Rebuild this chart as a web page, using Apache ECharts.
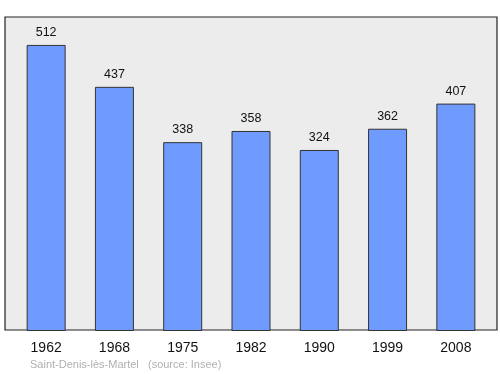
<!DOCTYPE html>
<html><head><meta charset="utf-8">
<script src="https://cdn.jsdelivr.net/npm/echarts@6/dist/echarts.min.js"></script>
<style>html,body{margin:0;padding:0;background:#fff}#c{width:500px;height:374px}</style>
</head><body><div id="c"></div>
<script>
const years = ['1962','1968','1975','1982','1990','1999','2008'];
const population = [512,437,338,358,324,362,407];
const sourceText = 'Saint-Denis-lès-Martel   (source: Insee)';

const chart = echarts.init(document.getElementById('c'), null, {renderer:'canvas'});
chart.setOption({
  animation:false,
  grid:[
    {left:5, right:3, top:17, bottom:44, show:true, backgroundColor:'#ececec', borderColor:'#222', borderWidth:1.2},
    {left:12, right:10, top:17, bottom:43}
  ],
  xAxis:[
    {gridIndex:0, type:'value', show:false, min:0, max:1},
    {gridIndex:1, type:'category', data:years, axisLine:{show:false}, axisTick:{show:false},
     axisLabel:{color:'#111', fontSize:14, fontFamily:'Liberation Sans, Arial, sans-serif', margin:10}}
  ],
  yAxis:[
    {gridIndex:0, type:'value', show:false, min:0, max:1},
    {gridIndex:1, type:'value', min:0, max:562, show:false}
  ],
  series:[{
    type:'bar', xAxisIndex:1, yAxisIndex:1, data:population, barWidth:39,
    itemStyle:{color:'#6f9bff', borderColor:'#333', borderWidth:1},
    label:{show:true, position:'top', distance:6, color:'#111', fontSize:12.5, fontFamily:'Liberation Sans, Arial, sans-serif'}
  }],
  graphic:[{type:'text', left:30, top:359, style:{text:sourceText, fill:'#b0b0b0', fontSize:11, fontFamily:'Liberation Sans, Arial, sans-serif'}}]
});
</script></body></html>
